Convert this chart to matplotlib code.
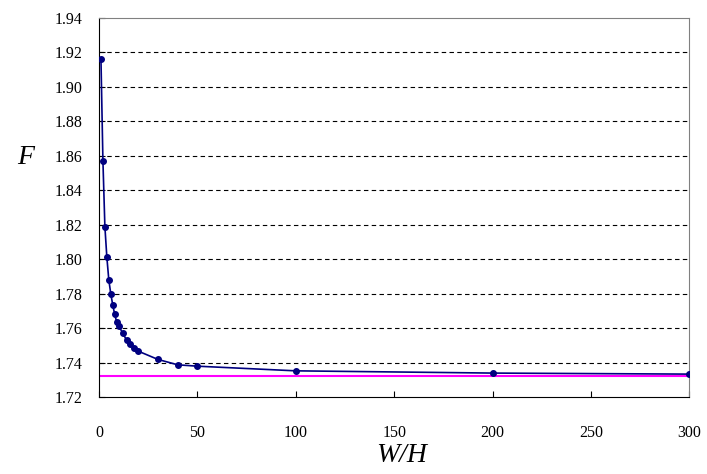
import numpy as np
import matplotlib.pyplot as plt

# W/H values and F values
wh = [1, 2, 3, 4, 5, 6, 7, 8, 9, 10, 12, 14, 16, 18, 20, 30, 40, 50, 100, 200, 300]
F = [1.9163, 1.8572, 1.8190, 1.8012, 1.7880, 1.7800, 1.7735, 1.7680, 1.7636, 1.7613,
     1.7574, 1.7531, 1.7508, 1.7487, 1.7467, 1.7419, 1.7388, 1.7380, 1.7353, 1.7340, 1.7334]
limit = np.sqrt(3)  # asymptote

xticks = [0, 50, 100, 150, 200, 250, 300]
yticks = [1.72, 1.74, 1.76, 1.78, 1.80, 1.82, 1.84, 1.86, 1.88, 1.90, 1.92, 1.94]

plt.rcParams['font.family'] = ['Liberation Serif', 'DejaVu Serif']

fig = plt.figure(figsize=(7.07, 4.74), dpi=100)
ax = fig.add_axes([0.140, 0.162, 0.835, 0.800])

for y in yticks[1:-1]:
    ax.axhline(y, color='black', lw=0.8, ls=(0, (4, 3)), zorder=1)

ax.plot([0, 300], [limit, limit], color='#ff00ff', lw=1.5, zorder=2)
ax.plot(wh, F, color='#000080', lw=1.2, marker='o', markersize=4, zorder=3)

ax.set_xlim(0, 300)
ax.set_ylim(1.72, 1.94)
ax.set_xticks(xticks)
ax.set_yticks(yticks)
ax.set_yticklabels(['%.2f' % v for v in yticks])

ax.tick_params(axis='both', direction='in', length=4, labelsize=11.5)
ax.tick_params(axis='x', pad=20)
ax.tick_params(axis='y', pad=12)

ax.spines['top'].set_color('#808080')
ax.spines['right'].set_color('#808080')

ax.set_xlabel('W/H', fontsize=20, style='italic')
ax.xaxis.set_label_coords(0.512, -0.122)
ax.set_ylabel('F', fontsize=20, style='italic', rotation=0)
ax.yaxis.set_label_coords(-0.124, 0.598)

fig.savefig('out.png', dpi=100)
